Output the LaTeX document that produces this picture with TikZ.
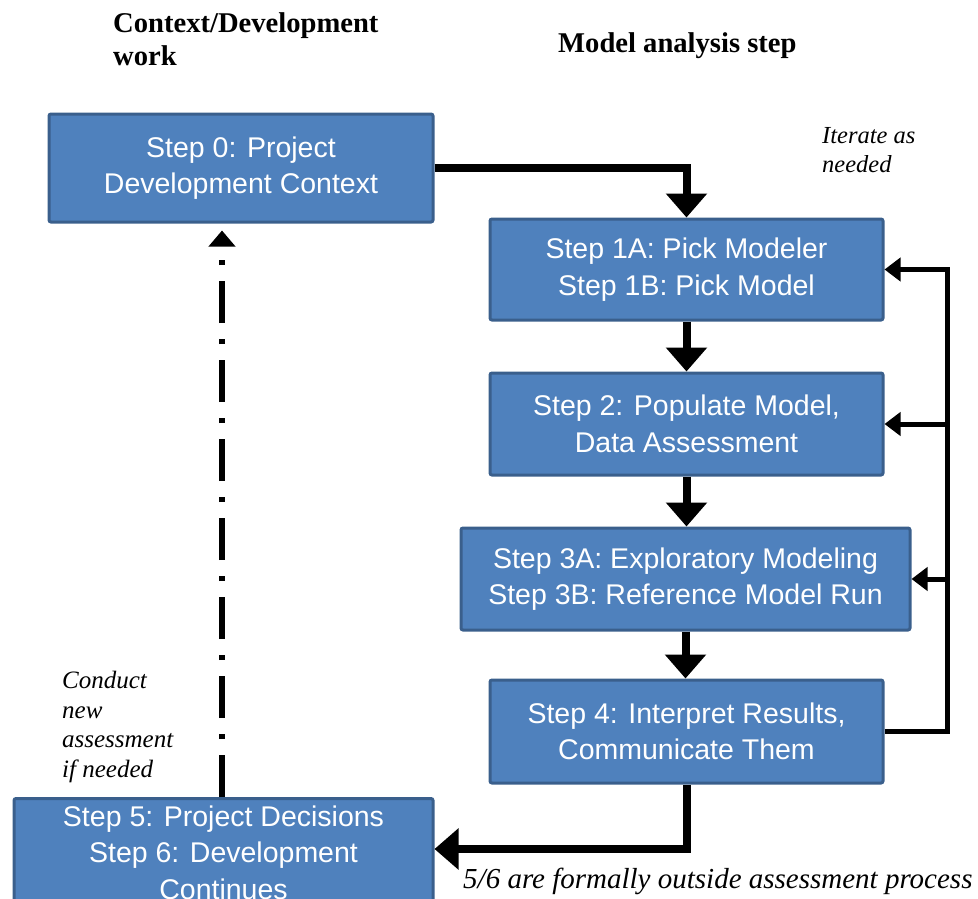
\documentclass[tikz,border=0pt]{standalone}
\usepackage{fontspec}
\setmainfont{Liberation Serif}
\newfontfamily\arialf{Liberation Sans}
\usetikzlibrary{arrows.meta}
\definecolor{boxfill}{HTML}{4F81BD}
\definecolor{boxline}{HTML}{3A5F8C}
\begin{document}
\begin{tikzpicture}[x=1pt,y=-1pt,
  stepbox/.style={draw=boxline, fill=boxfill, line width=3pt, rounded corners=2pt,
    text=white, font=\arialf\fontsize{28.5}{36.5}\selectfont, align=center, inner sep=0pt},
  mainarrow/.style={line width=8pt, -{Triangle[width=40pt,length=24pt]}},
  fbarrow/.style={line width=5pt, -{Triangle[width=23pt,length=16pt]}},
  dashdot/.style={line width=6pt, dash pattern=on 42pt off 16pt on 5pt off 16pt,
    -{Triangle[width=26pt,length=16pt]}, shorten >=7pt},
  titletext/.style={inner sep=0pt, font=\bfseries\fontsize{28.6}{33}\selectfont, align=left},
  notetext/.style={inner sep=0pt, font=\itshape\fontsize{25}{29.7}\selectfont, align=left}
]
\useasboundingbox (0,0) rectangle (978,899);
\clip (0,0) rectangle (978,899);

% titles
\node[titletext, anchor=north west] (t1) at (113,12) {Context/Development\\work};
\node[titletext, anchor=base west] (t2) at (558,53) {Model analysis step};

% boxes
\node[stepbox, minimum width=384pt, minimum height=108pt] (s0) at (241,168) {Step 0: Project\\Development Context};
\node[stepbox, minimum width=393pt, minimum height=101pt] (s1) at (686.5,269.5) {Step 1A: Pick Modeler\\Step 1B: Pick Model};
\node[stepbox, minimum width=393pt, minimum height=102pt] (s2) at (686.5,424) {Step 2: Populate Model,\\Data Assessment};
\node[stepbox, minimum width=449pt, minimum height=102pt] (s3) at (685.5,579) {Step 3A: Exploratory Modeling\\Step 3B: Reference Model Run};
\node[stepbox, minimum width=393pt, minimum height=103pt] (s4) at (686.5,731.5) {Step 4: Interpret Results,\\Communicate Them};
\node[stepbox, minimum width=419pt, inner ysep=7pt, anchor=north] (s5) at (223.5,797) {Step 5: Project Decisions\\Step 6: Development\\Continues};

% notes
\node[notetext, font=\itshape\fontsize{24.5}{29}\selectfont, anchor=north west] (n1) at (822,127) {Iterate as\\needed};
\node[notetext, anchor=north west] (n2) at (62,671) {Conduct\\new\\assessment\\if needed};
\node[notetext, font=\itshape\fontsize{29}{34}\selectfont, anchor=base west] (n3) at (463,888) {5/6 are formally outside assessment process};

% helper coordinates
\coordinate (rx) at (947,0);
\coordinate (dd) at (222,0);
\coordinate (c45) at (0,849);

% main flow
\draw[mainarrow] (s0.east) -| (s1.north);
\draw[mainarrow] (s1.south) -- (s2.north);
\draw[mainarrow] (s2.south) -- (s2.south |- s3.north);
\draw[mainarrow] (s3.south) -- (s3.south |- s4.north);
\draw[mainarrow] (s4.south) |- (s5.east |- c45);

% feedback loop
\draw[fbarrow] (s4.east) -- (s4.east -| rx) -- (s1.east -| rx) -- (s1.east);
\draw[fbarrow] (s2.east -| rx) -- (s2.east);
\draw[fbarrow] (s3.east -| rx) -- (s3.east);

% dash-dot return
\draw[dashdot] (s5.north -| dd) -- (s0.south -| dd);
\end{tikzpicture}
\end{document}
